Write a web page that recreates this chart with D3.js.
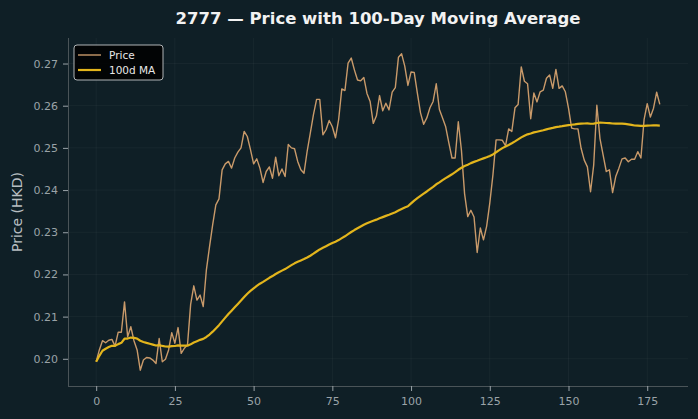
<!DOCTYPE html>
<html>
<head>
<meta charset="utf-8">
<script src="https://cdn.jsdelivr.net/npm/d3@7"></script>
<style>
  html, body { margin: 0; padding: 0; background: #0f1f26; }
  svg { display: block; font-family: "DejaVu Sans", sans-serif; }
</style>
</head>
<body>
<svg width="698" height="419"></svg>
<script>
// prezzi di chiusura (giorno 0..179)
const prices = [
  0.1993, 0.2021, 0.2043, 0.2038, 0.2044, 0.2046, 0.2030, 0.2063, 0.2063, 0.2135,
  0.2052, 0.2076, 0.2043, 0.2021, 0.1973, 0.1997, 0.2003, 0.2002, 0.1997, 0.1989,
  0.2048, 0.1993, 0.1999, 0.2021, 0.2062, 0.2037, 0.2074, 0.2013, 0.2025, 0.2033,
  0.2129, 0.2173, 0.2139, 0.2151, 0.2124, 0.2211, 0.2266, 0.2318, 0.2365, 0.2379,
  0.2448, 0.2462, 0.2468, 0.2452, 0.2476, 0.2490, 0.2500, 0.2539, 0.2527, 0.2496,
  0.2462, 0.2474, 0.2452, 0.2418, 0.2444, 0.2455, 0.2428, 0.2478, 0.2434, 0.2450,
  0.2432, 0.2508, 0.2500, 0.2498, 0.2468, 0.2448, 0.2440, 0.2492, 0.2535, 0.2579,
  0.2615, 0.2615, 0.2531, 0.2543, 0.2565, 0.2550, 0.2524, 0.2567, 0.2640, 0.2636,
  0.2701, 0.2713, 0.2685, 0.2661, 0.2659, 0.2667, 0.2629, 0.2610, 0.2558, 0.2576,
  0.2624, 0.2588, 0.2606, 0.2590, 0.2632, 0.2643, 0.2715, 0.2723, 0.2694, 0.2648,
  0.2680, 0.2679, 0.2630, 0.2583, 0.2556, 0.2571, 0.2595, 0.2610, 0.2652, 0.2591,
  0.2571, 0.2550, 0.2512, 0.2476, 0.2476, 0.2562, 0.2494, 0.2391, 0.2337, 0.2352,
  0.2336, 0.2252, 0.2310, 0.2282, 0.2314, 0.2369, 0.2436, 0.2519, 0.2519, 0.2518,
  0.2505, 0.2545, 0.2539, 0.2595, 0.2603, 0.2692, 0.2658, 0.2652, 0.2569, 0.2630,
  0.2609, 0.2633, 0.2637, 0.2665, 0.2673, 0.2641, 0.2686, 0.2641, 0.2647, 0.2633,
  0.2594, 0.2547, 0.2545, 0.2545, 0.2499, 0.2471, 0.2455, 0.2396, 0.2459, 0.2601,
  0.2522, 0.2483, 0.2444, 0.2448, 0.2394, 0.2432, 0.2452, 0.2474, 0.2476, 0.2467,
  0.2473, 0.2473, 0.2491, 0.2476, 0.2567, 0.2605, 0.2573, 0.2594, 0.2632, 0.2603
];
const maWindow = 100;
const xTicks = [0, 25, 50, 75, 100, 125, 150, 175];
const yTicks = [0.20, 0.21, 0.22, 0.23, 0.24, 0.25, 0.26, 0.27];
const seriesNames = ["Price", "100d MA"];

// media mobile come rolling(100, min_periods=1)
const days = prices.map((_, i) => i);
const movingAvg = prices.map((_, i) => d3.mean(prices.slice(Math.max(0, i - maWindow + 1), i + 1)));

const svg = d3.select("svg");
const width = +svg.attr("width");
const height = +svg.attr("height");
const margin = { top: 38, right: 10, bottom: 33, left: 68 };

const priceColor = "#c99a6a";
const maColor = "#e3b51c";
const tickColor = "#9aa3a8";

// margini 5% come matplotlib
const xPad = (days.length - 1) * 0.05;
const allVals = prices.concat(movingAvg);
const [yMin, yMax] = d3.extent(allVals);
const yPad = (yMax - yMin) * 0.05;

const x = d3.scaleLinear()
  .domain([-xPad, days.length - 1 + xPad])
  .range([margin.left, width - margin.right]);
const y = d3.scaleLinear()
  .domain([yMin - yPad, yMax + yPad])
  .range([height - margin.bottom, margin.top]);

svg.append("rect")
  .attr("width", width).attr("height", height)
  .attr("fill", "#0f1f26");

// griglia
const grid = svg.append("g");
grid.selectAll(".gx").data(xTicks).join("line")
  .attr("x1", d => x(d)).attr("x2", d => x(d))
  .attr("y1", margin.top).attr("y2", height - margin.bottom)
  .attr("stroke", "#ffffff").attr("stroke-opacity", 0.04);
grid.selectAll(".gy").data(yTicks).join("line")
  .attr("x1", margin.left).attr("x2", width - margin.right)
  .attr("y1", d => y(d)).attr("y2", d => y(d))
  .attr("stroke", "#ffffff").attr("stroke-opacity", 0.04);

// assi
const xAxis = svg.append("g")
  .attr("transform", `translate(0, ${height - margin.bottom})`)
  .call(d3.axisBottom(x).tickValues(xTicks).tickSize(5).tickPadding(6).tickFormat(d3.format("d")));
const yAxis = svg.append("g")
  .attr("transform", `translate(${margin.left}, 0)`)
  .call(d3.axisLeft(y).tickValues(yTicks).tickSize(5).tickPadding(5).tickFormat(d3.format(".2f")));

[xAxis, yAxis].forEach(g => {
  g.select(".domain").attr("stroke", "#4a5458");
  g.selectAll(".tick line").attr("stroke", tickColor);
  g.selectAll(".tick text")
    .attr("fill", tickColor)
    .attr("font-size", "11px")
    .attr("font-family", "DejaVu Sans, sans-serif");
});
yAxis.select(".domain").attr("d", `M0.5,${margin.top}V${height - margin.bottom}`);
xAxis.select(".domain").attr("d", `M${margin.left},0.5H${width - margin.right}`);

// linee
const line = d3.line().x((d, i) => x(days[i])).y(d => y(d));

svg.append("path")
  .datum(prices)
  .attr("fill", "none")
  .attr("stroke", priceColor)
  .attr("stroke-width", 1.4)
  .attr("stroke-linejoin", "round")
  .attr("d", line);

svg.append("path")
  .datum(movingAvg)
  .attr("fill", "none")
  .attr("stroke", maColor)
  .attr("stroke-width", 2.2)
  .attr("stroke-linejoin", "round")
  .attr("d", line);

// titolo
svg.append("text")
  .attr("x", (margin.left + width - margin.right) / 2)
  .attr("y", 24)
  .attr("text-anchor", "middle")
  .attr("fill", "#f2f2f2")
  .attr("font-size", "16.5px")
  .attr("font-weight", "bold")
  .text("2777 — Price with 100-Day Moving Average");

// etichetta asse y
svg.append("text")
  .attr("transform", `translate(22, ${(margin.top + height - margin.bottom) / 2}) rotate(-90)`)
  .attr("text-anchor", "middle")
  .attr("fill", "#b8bec2")
  .attr("font-size", "14px")
  .text("Price (HKD)");

// legenda
const legend = svg.append("g").attr("transform", `translate(${margin.left + 6}, ${margin.top + 7})`);
legend.append("rect")
  .attr("width", 89).attr("height", 35)
  .attr("rx", 3)
  .attr("fill", "#000000").attr("fill-opacity", 0.85)
  .attr("stroke", "#b0b4b6").attr("stroke-width", 1);
[priceColor, maColor].forEach((c, i) => {
  legend.append("line")
    .attr("x1", 4).attr("x2", 27)
    .attr("y1", 10 + i * 15).attr("y2", 10 + i * 15)
    .attr("stroke", c).attr("stroke-width", i === 0 ? 1.4 : 2.2);
  legend.append("text")
    .attr("x", 35).attr("y", 14 + i * 15)
    .attr("fill", "#e8e8e8")
    .attr("font-size", "10.5px")
    .text(seriesNames[i]);
});
</script>
</body>
</html>
